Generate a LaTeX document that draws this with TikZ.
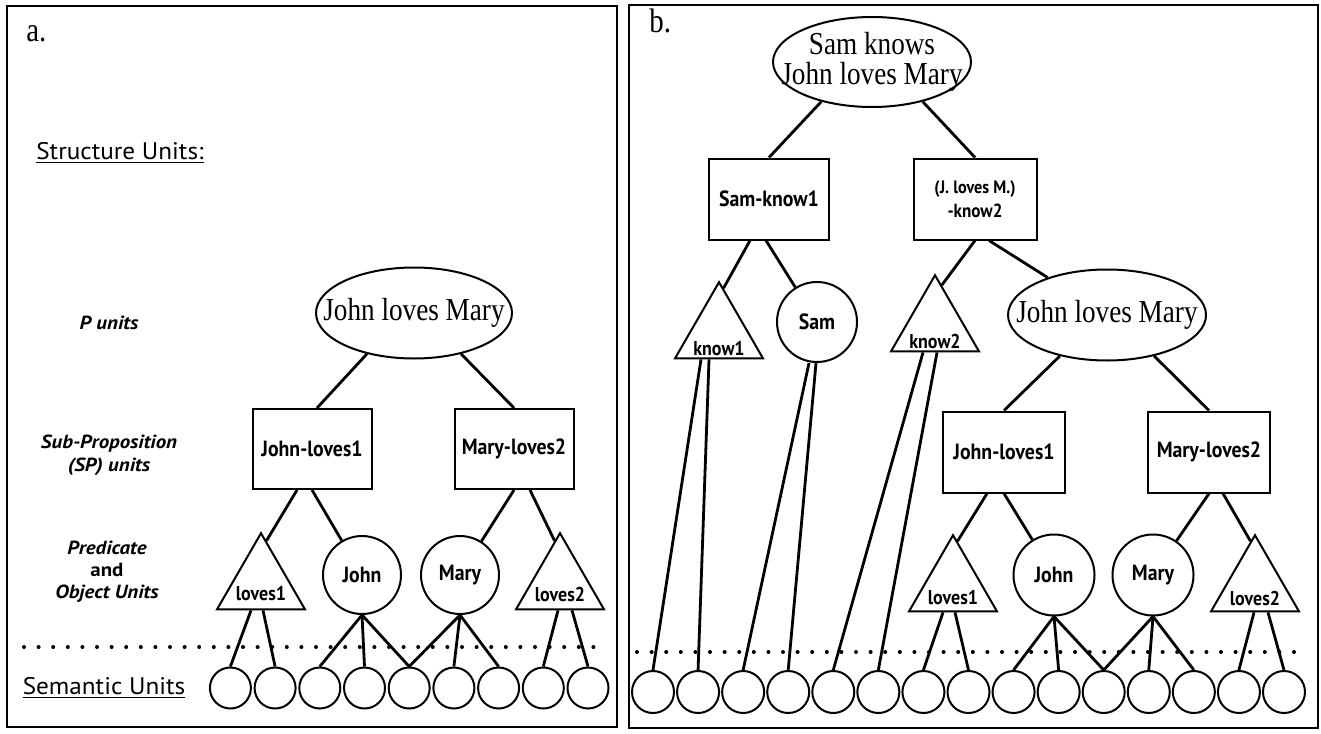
\documentclass[tikz,border=0pt]{standalone}
\usepackage{fontspec}
\usetikzlibrary{shapes.geometric,calc}
\newfontfamily\serf[FakeStretch=0.85]{Liberation Serif}
\newfontfamily\sansf[FakeStretch=0.9]{PT Sans}
\newfontfamily\sidef[FakeStretch=1.1]{PT Sans}
\newfontfamily\headf[FakeStretch=1.05]{PT Sans}
\tikzset{
 conn/.style={line width=1.4pt},
 unitbox/.style={draw,line width=1pt,minimum width=60pt,minimum height=40.5pt,inner sep=1pt,align=center,font=\sansf\bfseries\fontsize{11}{12}\selectfont},
 objc/.style={circle,draw,line width=1pt,minimum size=39.5pt,inner sep=0pt,font=\sansf\bfseries\fontsize{11}{12}\selectfont},
 tri/.style={regular polygon,regular polygon sides=3,draw,line width=1pt,minimum size=50.8pt,inner sep=0pt},
 trilab/.style={inner sep=0pt,font=\sansf\bfseries\fontsize{10}{12}\selectfont},
 prop/.style={ellipse,draw,line width=1pt,inner sep=0pt},
 proptext/.style={align=center,inner sep=0pt,font=\serf\fontsize{16}{15}\selectfont},
 sem/.style={circle,draw,line width=1pt,inner sep=0pt},
 sidelab/.style={align=center,font=\sidef\bfseries\itshape\fontsize{9.5}{11.5}\selectfont},
 head/.style={inner sep=0pt,font=\headf\fontsize{12}{13}\selectfont},
 frame/.style={line width=1.4pt},
 dotline/.style={line width=2pt,line cap=round,dash pattern=on 0pt off 7.3pt}
}
\begin{document}
\begin{tikzpicture}[x=0.5pt,y=-0.5pt]
\useasboundingbox (0,0) rectangle (1321,733);
% frames
\draw[frame] (7,6) rectangle (617,727);
\draw[frame] (629,5) rectangle (1318,728);

% ---------------- panel a ----------------
\node[inner sep=0pt,anchor=base west,font=\serf\fontsize{17}{18}\selectfont] (pa) at (26,42) {a.};
\node[head] (su) at (120,153) {\underline{Structure Units:}};
\node[sidelab] (pu) at (109,323) {P units};
\node[sidelab] (sp) at (109,455) {Sub-Proposition\\(SP) units};
\node[sidelab,font=\sidef\bfseries\itshape\fontsize{9.5}{11}\selectfont] (po) at (107,572) {Predicate\\{\upshape and}\\Object Units};
\node[head] (seu) at (104,688) {\underline{Semantic Units}};

\node[prop,minimum width=98pt,minimum height=45.5pt] (e1) at (414,313) {};
\node[proptext] (e1t) at (e1) {John loves Mary};
\node[unitbox,minimum width=59.5pt,minimum height=40pt] (jl1) at (312,449) {John-loves1};
\node[unitbox,minimum width=59.5pt,minimum height=40pt] (ml1) at (514,449) {Mary-loves2};
\node[tri] (l1) at (261,584) {};
\node[trilab] (l1t) at ($(l1)+(0,10)$) {loves1};
\node[objc,minimum size=39pt] (jo1) at (362,575) {John};
\node[objc,minimum size=39pt] (ma1) at (460,575) {Mary};
\node[tri] (l2) at (560,584) {};
\node[trilab] (l2t) at ($(l2)+(0,10)$) {loves2};

\draw[dotline] (24,647) -- (597,647);
\foreach \i in {1,...,9}
  \node[sem,minimum size=20.5pt] (s\i) at ({230.4+44.7*(\i-1)},688) {};

\draw[conn] (e1.221) -- ($(jl1.north)+(5,0)$);
\draw[conn] (e1.319) -- (ml1.north);
\draw[conn] ($(jl1.south)+(-15,0)$) -- ($(l1.corner 1)!0.12!(l1.corner 3)$);
\draw[conn] (jl1.south) -- (jo1);
\draw[conn] (ml1.south) -- (ma1);
\draw[conn] ($(ml1.south)+(16,0)$) -- ($(l2.corner 1)!0.12!(l2.corner 2)$);
\draw[conn] ($(l1.side 2)+(-10,0)$) -- (s1.north);
\draw[conn] ($(l1.side 2)+(2,0)$) -- (s2.north);
\draw[conn] (jo1.south) -- (s3.north);
\draw[conn] (jo1.south) -- (s4.north);
\draw[conn] (jo1.south) -- (s5.north);
\draw[conn] (ma1.south) -- (s5.north);
\draw[conn] (ma1.south) -- (s6.north);
\draw[conn] (ma1.south) -- (s7.north);
\draw[conn] ($(l2.side 2)+(-2,0)$) -- (s8.north);
\draw[conn] ($(l2.side 2)+(12,0)$) -- (s9.north);

% ---------------- panel b ----------------
\node[inner sep=0pt,anchor=base west,font=\serf\fontsize{17}{18}\selectfont] (pb) at (649,33) {b.};
\node[prop,minimum width=99pt,minimum height=45pt] (e2) at (872,62) {};
\node[proptext] (e2t) at (e2) {Sam knows\\John loves Mary};
\node[unitbox] (sk) at (769,199) {Sam-know1};
\node[unitbox,minimum width=61.5pt] (kn2) at (975,199) {{\fontsize{9}{10.5}\selectfont (J. loves M.)}\\{\fontsize{9.5}{11}\selectfont -know2}};
\node[tri] (k1) at (719,333) {};
\node[trilab] (k1t) at ($(k1)+(0,16)$) {know1};
\node[objc,minimum size=40pt] (sam) at (817,322) {Sam};
\node[tri] (k2) at (935,326) {};
\node[trilab] (k2t) at ($(k2)+(0,15)$) {know2};
\node[prop,minimum width=99pt,minimum height=45.5pt] (e3) at (1107,315) {};
\node[proptext] (e3t) at (e3) {John loves Mary};
\node[unitbox,minimum width=61pt] (rjl) at (1004,452) {John-loves1};
\node[unitbox,minimum width=61pt] (rml) at (1209,452) {Mary-loves2};
\node[tri] (rl1) at (953,586) {};
\node[trilab] (rl1t) at ($(rl1)+(0,12)$) {loves1};
\node[objc,minimum size=40.5pt] (rjo) at (1054,575) {John};
\node[objc,minimum size=40.5pt] (rma) at (1153,575) {Mary};
\node[tri] (rl2) at (1255,586) {};
\node[trilab] (rl2t) at ($(rl2)+(0,12)$) {loves2};

\draw[dotline] (637,652) -- (1304,652);
\foreach \i in {1,...,15}
  \node[sem,minimum size=21pt] (t\i) at ({653+45.07*(\i-1)},692) {};

\draw[conn] (e2.218) -- (sk.north);
\draw[conn] (e2.322) -- (kn2.north);
\draw[conn] ($(sk.south)+(-19,0)$) -- ($(k1.corner 1)!0.1!(k1.corner 3)$);
\draw[conn] ($(sk.south)+(-3,0)$) -- (sam);
\draw[conn] (kn2.south) -- ($(k2.corner 1)!0.15!(k2.corner 3)$);
\draw[conn] ($(kn2.south)+(14,0)$) -- (e3);
\draw[conn] (e3.221) -- (rjl.north);
\draw[conn] (e3.319) -- (rml.north);
\draw[conn] ($(rjl.south)+(-17,0)$) -- ($(rl1.corner 1)!0.1!(rl1.corner 3)$);
\draw[conn] (rjl.south) -- (rjo);
\draw[conn] (rml.south) -- (rma);
\draw[conn] ($(rml.south)+(14,0)$) -- ($(rl2.corner 1)!0.1!(rl2.corner 2)$);
\draw[conn] ($(k1.side 2)+(-18,0)$) -- (t1.north);
\draw[conn] ($(k1.side 2)+(-10,0)$) -- (t2.north);
\draw[conn] ($(sam.south)+(-8,0)$) -- (t3.north);
\draw[conn] ($(sam.south)+(-1,0)$) -- (t4.north);
\draw[conn] ($(k2.side 2)+(-12,0)$) -- (t5.north);
\draw[conn] ($(k2.side 2)+(2,0)$) -- (t6.north);
\draw[conn] ($(rl1.side 2)+(-10,0)$) -- (t7.north);
\draw[conn] ($(rl1.side 2)+(2,0)$) -- (t8.north);
\draw[conn] (rjo.south) -- (t9.north);
\draw[conn] (rjo.south) -- (t10.north);
\draw[conn] (rjo.south) -- (t11.north);
\draw[conn] (rma.south) -- (t11.north);
\draw[conn] (rma.south) -- (t12.north);
\draw[conn] (rma.south) -- (t13.north);
\draw[conn] ($(rl2.side 2)+(-1,0)$) -- (t14.north);
\draw[conn] ($(rl2.side 2)+(13,0)$) -- (t15.north);
\end{tikzpicture}
\end{document}
